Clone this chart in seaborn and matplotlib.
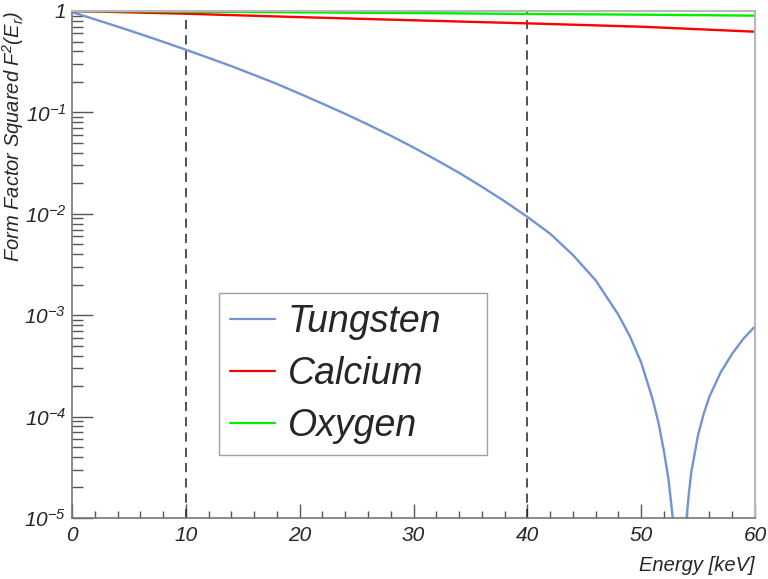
import matplotlib
matplotlib.use("Agg")
import matplotlib.pyplot as plt
import seaborn as sns
import pandas as pd
from matplotlib.ticker import FixedLocator, LogLocator, MultipleLocator, NullFormatter

# ---- data ----
tungsten_E = [0, 2, 4, 6, 8, 10, 12, 14, 16, 18, 20, 22, 24, 26, 28, 30, 32, 34, 36, 38,
              40, 42, 44, 46, 48, 49, 50, 51, 51.5, 52, 52.4, 52.8, 53.0, 53.3, 53.6,
              53.9, 54.2, 54.4, 55, 55.5, 56, 57, 58, 59, 60]
tungsten_F2 = [0.977, 0.828, 0.702, 0.592, 0.497, 0.415, 0.345, 0.286, 0.234, 0.191,
               0.153, 0.122, 0.0968, 0.0759, 0.0589, 0.0451, 0.0340, 0.0254, 0.0185, 0.0133,
               0.00933, 0.00637, 0.00393, 0.00221, 0.00101, 6.22e-4, 3.42e-4, 1.49e-4,
               8.9e-5, 4.57e-5, 2.40e-5, 9.5e-6, 1.6e-6, 1e-7, 1.6e-6,
               7.9e-6, 1.78e-5, 2.82e-5, 6.6e-5, 1.07e-4, 1.58e-4, 2.75e-4, 4.17e-4,
               5.9e-4, 7.76e-4]

calcium_E = [0, 10, 20, 30, 40, 50, 60]
calcium_F2 = [1.0, 0.94, 0.87, 0.81, 0.755, 0.70, 0.625]

oxygen_E = [0, 10, 20, 30, 40, 50, 60]
oxygen_F2 = [1.0, 0.985, 0.97, 0.955, 0.935, 0.92, 0.90]

series_names = ["Tungsten", "Calcium", "Oxygen"]
series_colors = ["#7393d3", "#ff0000", "#00ee00"]
cut_lines = [10, 40]
y_ticks = [1e-5, 1e-4, 1e-3, 1e-2, 1e-1, 1]
y_ticklabels = [r"$10^{-5}$", r"$10^{-4}$", r"$10^{-3}$", r"$10^{-2}$", r"$10^{-1}$", "1"]
x_ticks = [0, 10, 20, 30, 40, 50, 60]

df = pd.concat([
    pd.DataFrame({"E": tungsten_E, "F2": tungsten_F2, "el": "Tungsten"}),
    pd.DataFrame({"E": calcium_E, "F2": calcium_F2, "el": "Calcium"}),
    pd.DataFrame({"E": oxygen_E, "F2": oxygen_F2, "el": "Oxygen"}),
], ignore_index=True)

sns.set_style("white")
plt.rcParams["font.family"] = ["Liberation Sans", "DejaVu Sans"]
plt.rcParams["font.style"] = "italic"
plt.rcParams["mathtext.fontset"] = "custom"
plt.rcParams["mathtext.rm"] = "Liberation Sans:italic"
plt.rcParams["mathtext.it"] = "Liberation Sans:italic"
plt.rcParams["mathtext.default"] = "rm"

fig = plt.figure(figsize=(7.68, 5.79), dpi=100)
ax = fig.add_axes([72 / 768, (579 - 518) / 579, 683 / 768, 507 / 579])

sns.lineplot(data=df, x="E", y="F2", hue="el", hue_order=series_names,
             palette=dict(zip(series_names, series_colors)), estimator=None,
             sort=False, linewidth=1.7, ax=ax)

for xv in cut_lines:
    ax.axvline(xv, color="#222222", linestyle=(0, (6, 4)), linewidth=1.1, zorder=1)

ax.set_yscale("log")
ax.set_xlim(0, 60)
ax.set_ylim(1e-5, 1)

ax.yaxis.set_major_locator(FixedLocator(y_ticks))
ax.set_yticklabels(y_ticklabels)
ax.yaxis.set_minor_locator(LogLocator(base=10, subs=range(2, 10), numticks=20))
ax.yaxis.set_minor_formatter(NullFormatter())
ax.xaxis.set_major_locator(FixedLocator(x_ticks))
ax.set_xticklabels([str(v) for v in x_ticks])
ax.xaxis.set_minor_locator(MultipleLocator(2))

ax.tick_params(axis="y", which="major", direction="in", length=15, width=1,
               color="#555555", labelsize=15, pad=4)
ax.tick_params(axis="y", which="minor", direction="in", length=8, width=1, color="#555555")
ax.tick_params(axis="x", which="major", direction="in", length=10, width=1,
               color="#555555", labelsize=15, pad=6)
ax.tick_params(axis="x", which="minor", direction="in", length=5, width=1, color="#555555")
ax.tick_params(left=True, bottom=True, top=False, right=False, which="both")

for s in ["left", "bottom"]:
    ax.spines[s].set_color("#777777")
    ax.spines[s].set_linewidth(1.2)
for s in ["top", "right"]:
    ax.spines[s].set_color("#b8b8b8")
    ax.spines[s].set_linewidth(1.5)

ax.set_xlabel("Energy [keV]", loc="right", fontsize=14.5, labelpad=8)
ax.set_ylabel(r"Form Factor Squared $F^{2}(E_{r})$", loc="top", fontsize=14.5)
ax.yaxis.set_label_coords(-0.067, 1.0)

leg = ax.legend(loc="lower left", bbox_to_anchor=(0.215, 0.124, 0.393, 0.314),
                mode="expand", fontsize=27, frameon=True, fancybox=False,
                handlelength=1.2, handletextpad=0.33, labelspacing=0.42,
                borderpad=0.3, borderaxespad=0)
leg.get_frame().set_edgecolor("#888888")
leg.get_frame().set_linewidth(1.0)
for line in leg.get_lines():
    line.set_linewidth(1.6)

fig.savefig("out.png", dpi=100)
